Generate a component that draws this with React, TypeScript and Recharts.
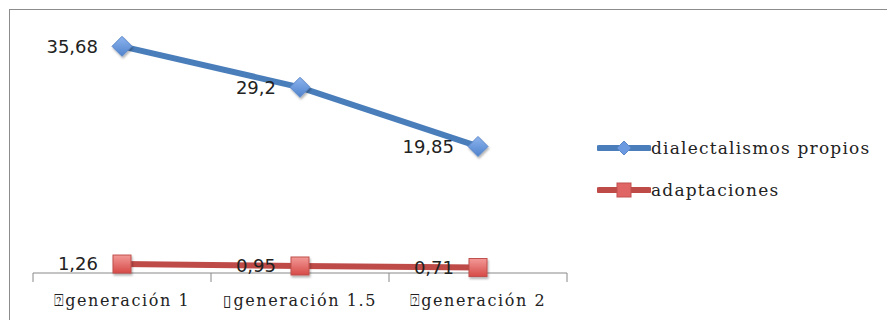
import {
  LineChart,
  Line,
  XAxis,
  YAxis,
  Legend,
  LabelList,
} from "recharts";

const categories = ["⍰generación 1", "▯generación 1.5", "⍰generación 2"];
const dialectalismos = [35.68, 29.2, 19.85];
const adaptaciones = [1.26, 0.95, 0.71];
const seriesNames = ["dialectalismos propios", "adaptaciones"];
const edgeTicks = [0, 1, 2, 3];

const data = categories.map((cat, i) => ({
  cat,
  pos: i + 0.5,
  dialectalismos: dialectalismos[i],
  adaptaciones: adaptaciones[i],
}));

const BLUE = "#4a7ebb";
const RED = "#be4b48";

const fmt = (v: number) => String(v).replace(".", ",");

const Diamond = ({ cx, cy }: { cx: number; cy: number }) => (
  <path
    d={`M${cx},${cy - 10} L${cx + 10},${cy} L${cx},${cy + 10} L${cx - 10},${cy} Z`}
    fill="url(#blueGrad)"
    stroke="#5b87c8"
    strokeWidth={1}
    filter="url(#shadow)"
  />
);

const Square = ({ cx, cy }: { cx: number; cy: number }) => (
  <rect
    x={cx - 9}
    y={cy - 9}
    width={18}
    height={18}
    fill="url(#redGrad)"
    stroke="#c0504d"
    strokeWidth={1}
    filter="url(#shadow)"
  />
);

const renderLegend = () => (
  <div style={{ fontFamily: "DejaVu Serif", fontSize: 17, color: "#222", letterSpacing: 1.2 }}>
    <div style={{ display: "flex", alignItems: "center", height: 42 }}>
      <svg width={54} height={22}>
        <line x1={2} y1={11} x2={52} y2={11} stroke={BLUE} strokeWidth={6} strokeLinecap="round" />
        <path d="M27,4 L34,11 L27,18 L20,11 Z" fill="#6b9ae0" stroke="#5b87c8" />
      </svg>
      <span>{seriesNames[0]}</span>
    </div>
    <div style={{ display: "flex", alignItems: "center", height: 42 }}>
      <svg width={54} height={22}>
        <line x1={2} y1={11} x2={52} y2={11} stroke={RED} strokeWidth={6} strokeLinecap="round" />
        <rect x={20} y={4} width={14} height={14} fill="#e06666" stroke="#c0504d" />
      </svg>
      <span>{seriesNames[1]}</span>
    </div>
  </div>
);

export default function App() {
  return (
    <div style={{ position: "absolute", left: 0, top: 0, width: 887, height: 320, overflow: "hidden", background: "#fff" }}>
      <div
        style={{
          position: "absolute",
          left: 9,
          top: 9,
          width: 1000,
          height: 1000,
          border: "1px solid #8c8c8c",
        }}
      />
      <LineChart
        width={887}
        height={320}
        data={data}
        margin={{ top: 19, right: 30, bottom: 46, left: 33 }}
        style={{ position: "absolute", left: 0, top: 0 }}
      >
        <defs>
          <linearGradient id="blueGrad" x1="0" y1="0" x2="0" y2="1">
            <stop offset="0%" stopColor="#8db4ee" />
            <stop offset="100%" stopColor="#4f82cc" />
          </linearGradient>
          <linearGradient id="redGrad" x1="0" y1="0" x2="0" y2="1">
            <stop offset="0%" stopColor="#f29a98" />
            <stop offset="100%" stopColor="#d64a47" />
          </linearGradient>
          <filter id="shadow" x="-50%" y="-50%" width="200%" height="200%">
            <feDropShadow dx={1} dy={2} stdDeviation={1.2} floodColor="#000" floodOpacity={0.3} />
          </filter>
        </defs>
        <XAxis
          xAxisId="edges"
          dataKey="pos"
          type="number"
          domain={[0, 3]}
          ticks={edgeTicks}
          allowDataOverflow
          height={1}
          tick={() => <g />}
          tickSize={9}
          axisLine={{ stroke: "#888" }}
          tickLine={{ stroke: "#888" }}
        />
        <XAxis
          dataKey="cat"
          scale="band"
          height={1}
          interval={0}
          axisLine={false}
          tickLine={false}
          tickMargin={17}
          tick={{ fontFamily: "DejaVu Serif", fontSize: 16, fill: "#222", letterSpacing: 1.6 }}
        />
        <YAxis hide domain={[0, 40]} />
        <Legend
          layout="vertical"
          align="right"
          verticalAlign="top"
          content={renderLegend}
          wrapperStyle={{ left: 597, top: 127, width: 290 }}
        />
        <Line
          dataKey="dialectalismos"
          name={seriesNames[0]}
          stroke={BLUE}
          strokeWidth={6}
          isAnimationActive={false}
          dot={(p: any) => <Diamond key={`d-${p.index}`} cx={p.cx} cy={p.cy} />}
          activeDot={false}
        >
          <LabelList
            dataKey="dialectalismos"
            position="left"
            offset={24}
            formatter={(v: any) => fmt(v)}
            style={{ fontFamily: "DejaVu Sans", fontSize: 18, fill: "#222" }}
          />
        </Line>
        <Line
          dataKey="adaptaciones"
          name={seriesNames[1]}
          stroke={RED}
          strokeWidth={6}
          isAnimationActive={false}
          dot={(p: any) => <Square key={`s-${p.index}`} cx={p.cx} cy={p.cy} />}
          activeDot={false}
        >
          <LabelList
            dataKey="adaptaciones"
            position="left"
            offset={24}
            formatter={(v: any) => fmt(v)}
            style={{ fontFamily: "DejaVu Sans", fontSize: 18, fill: "#222" }}
          />
        </Line>
      </LineChart>
    </div>
  );
}
